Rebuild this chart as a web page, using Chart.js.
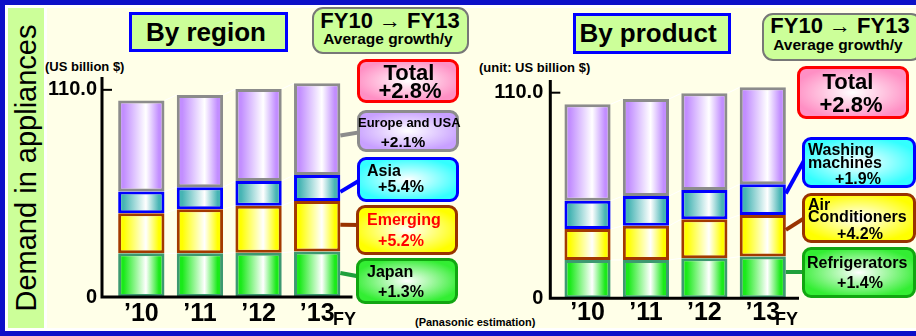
<!DOCTYPE html>
<html>
<head>
<meta charset="utf-8">
<script src="https://cdn.jsdelivr.net/npm/chart.js@4.4.1/dist/chart.umd.min.js"></script>
<style>
  body { margin: 0; width: 916px; height: 336px; overflow: hidden; font-family: "Liberation Sans", Arial, sans-serif; }
  .abs { position: absolute; }
  .frame { left: 0; top: 0; width: 916px; height: 336px; background: #0c10c8; }
  .inner { left: 5px; top: 5px; width: 911px; height: 326px; background: #fff; }
  .strip { left: 8px; top: 8px; width: 36px; height: 320px; background: #ccff99; }
  .panel { left: 47px; top: 8px; width: 869px; height: 320px; background: #ffffe8; }
  .t { position: absolute; font-weight: bold; white-space: nowrap; line-height: 1; color: #000; }
  .c { transform: translate(-50%, -50%); }
  .l { transform: translate(0, -50%); }
  .title { box-sizing: border-box; border: 3px solid #0000ff; background: #ccff99; }
  .fy { box-sizing: border-box; border: 2px solid #777; border-radius: 11px; background: #ccff99; }
  .box { box-sizing: border-box; border: 3px solid; border-radius: 9px; }
  canvas { position: absolute; }
</style>
</head>
<body>
<div class="abs frame"></div>
<div class="abs inner"></div>
<div class="abs strip"></div>
<div class="abs panel"></div>

<div class="t c" style="left:26px;top:168px;font-weight:normal;font-size:29px;transform:translate(-50%,-50%) rotate(-90deg);">Demand in appliances</div>

<!-- titles -->
<div class="abs title" style="left:129px;top:12px;width:159px;height:40px;"></div>
<div class="t c" style="left:206px;top:32px;font-size:26px;">By region</div>
<div class="abs title" style="left:573px;top:13px;width:158px;height:41px;"></div>
<div class="t c" style="left:648px;top:33px;font-size:26px;">By product</div>

<div class="abs fy" style="left:312px;top:7px;width:157px;height:47px;"></div>
<div class="t c" style="left:390px;top:21px;font-size:22px;">FY10 → FY13</div>
<div class="t c" style="left:388px;top:39px;font-size:15.5px;">Average growth/y</div>
<div class="abs fy" style="left:762px;top:13px;width:160px;height:48px;"></div>
<div class="t c" style="left:840px;top:26px;font-size:22px;">FY10 → FY13</div>
<div class="t c" style="left:838px;top:45px;font-size:15.5px;">Average growth/y</div>

<div class="t l" style="left:45px;top:66px;font-size:13px;">(US billion $)</div>
<div class="t l" style="left:479px;top:67px;font-size:13px;">(unit: US billion $)</div>
<div class="t l" style="left:415px;top:322px;font-size:11px;">(Panasonic estimation)</div>

<canvas id="regionChart" width="320" height="280" style="left:40px;top:56px;"></canvas>
<canvas id="productChart" width="316" height="280" style="left:488px;top:56px;"></canvas>

<div class="t l" style="left:333px;top:319px;font-size:18px;">FY</div>
<div class="t l" style="left:775px;top:319px;font-size:18px;">FY</div>

<!-- label boxes, by region -->
<div class="abs box" style="left:357px;top:59px;width:102px;height:44px;border-color:#ff0000;background:radial-gradient(ellipse at center,#fff 0%,#ff8fc4 80%);"></div>
<div class="t c" style="left:409px;top:73px;font-size:22px;">Total</div>
<div class="t c" style="left:410px;top:91px;font-size:22px;">+2.8%</div>

<div class="abs box" style="left:357px;top:110px;width:102px;height:42px;border-color:#8c8c8c;background:radial-gradient(ellipse at center,#fff 0%,#c8a0ff 80%);"></div>
<div class="t l" style="left:358px;top:122px;font-size:13px;">Europe and USA</div>
<div class="t c" style="left:403px;top:142px;font-size:15.5px;">+2.1%</div>

<div class="abs box" style="left:357px;top:157px;width:102px;height:45px;border-color:#0000ff;background:radial-gradient(ellipse at center,#fff 0%,#33ffff 80%);"></div>
<div class="t l" style="left:367px;top:171px;font-size:16px;">Asia</div>
<div class="t c" style="left:401px;top:187px;font-size:16px;">+5.4%</div>

<div class="abs box" style="left:356px;top:205px;width:102px;height:50px;border-color:#993300;background:radial-gradient(ellipse at center,#fff 0%,#ffff00 80%);"></div>
<div class="t l" style="left:367px;top:220px;font-size:16px;color:#ff0000;">Emerging</div>
<div class="t c" style="left:401px;top:241px;font-size:16px;color:#ff0000;">+5.2%</div>

<div class="abs box" style="left:356px;top:258px;width:102px;height:46px;border-color:#11a611;background:radial-gradient(ellipse at center,#fff 0%,#33ee33 80%);"></div>
<div class="t l" style="left:367px;top:272px;font-size:16px;">Japan</div>
<div class="t c" style="left:401px;top:292px;font-size:16px;">+1.3%</div>

<!-- label boxes, by product -->
<div class="abs box" style="left:797px;top:66px;width:112px;height:53px;border-color:#ff0000;background:radial-gradient(ellipse at center,#fff 0%,#ff8fc4 80%);"></div>
<div class="t c" style="left:848px;top:82px;font-size:22px;">Total</div>
<div class="t c" style="left:851px;top:105px;font-size:22px;">+2.8%</div>

<div class="abs box" style="left:802px;top:137px;width:114px;height:51px;border-color:#0000ff;background:radial-gradient(ellipse at center,#fff 0%,#33ffff 80%);"></div>
<div class="t l" style="left:808px;top:150px;font-size:16px;">Washing</div>
<div class="t l" style="left:808px;top:163px;font-size:16px;">machines</div>
<div class="t c" style="left:858px;top:179px;font-size:16px;">+1.9%</div>

<div class="abs box" style="left:802px;top:193px;width:114px;height:50px;border-color:#993300;background:radial-gradient(ellipse at center,#fff 0%,#ffff00 80%);"></div>
<div class="t l" style="left:808px;top:205px;font-size:16px;">Air</div>
<div class="t l" style="left:808px;top:217px;font-size:16px;">Conditioners</div>
<div class="t c" style="left:860px;top:234px;font-size:16px;">+4.2%</div>

<div class="abs box" style="left:802px;top:247px;width:114px;height:51px;border-color:#11a611;background:radial-gradient(ellipse at center,#fff 0%,#33ee33 80%);"></div>
<div class="t l" style="left:807px;top:263px;font-size:16px;">Refrigerators</div>
<div class="t c" style="left:860px;top:283px;font-size:16px;">+1.4%</div>

<script>
    // Данные (US billion $)
    const years = ['\u201910', '\u201911', '\u201912', '\u201913'];
    const yTicks = [0, 110];

    const japan = [23.2, 23.2, 23.5, 24.1];
    const emerging = [21.3, 23.4, 25.0, 26.9];
    const asia = [11.5, 11.7, 13.1, 13.8];
    const europeUsa = [48.3, 49.0, 48.8, 48.7];

    const refrigerators = [20.5, 20.5, 21.4, 22.3];
    const airConditioners = [16.6, 18.3, 20.9, 22.3];
    const washingMachines = [15.1, 15.9, 15.6, 16.4];
    const otherProducts = [51.6, 51.9, 51.8, 51.9];

    Chart.defaults.font.family = '"Liberation Sans", Arial, sans-serif';

    const FILL = { purple: '#c28eff', teal: '#46b4b4', yellow: '#ffff00', green: '#1aea1a' };
    const EDGE = { purple: '#8c8c8c', teal: '#0000ff', yellow: '#a33a00', green: '#3d9970' };

    function segment(label, data, kind) {
        return {
            label: label,
            data: data,
            fillEdge: FILL[kind],
            backgroundColor: FILL[kind],
            borderColor: EDGE[kind],
            borderWidth: 3,
            borderSkipped: false,
            categoryPercentage: 1,
            barPercentage: 0.79
        };
    }

    // Градиент, оси, линии к подписям
    const decorPlugin = {
        id: 'decor',
        beforeDatasetsDraw(chart) {
            const ctx = chart.ctx;
            chart.data.datasets.forEach((ds, i) => {
                const bars = chart.getDatasetMeta(i).data;
                bars.forEach(bar => {
                    const g = ctx.createLinearGradient(bar.x - bar.width / 2, 0, bar.x + bar.width / 2, 0);
                    g.addColorStop(0, ds.fillEdge);
                    g.addColorStop(0.12, ds.fillEdge);
                    g.addColorStop(0.6, '#ffffff');
                    g.addColorStop(0.88, ds.fillEdge);
                    g.addColorStop(1, ds.fillEdge);
                    bar.options = Object.assign({}, bar.options, { backgroundColor: g });
                });
                // тонкие белые линии между столбцами
                ctx.save();
                ctx.strokeStyle = '#ffffff';
                ctx.lineWidth = 1;
                for (let k = 0; k < bars.length - 1; k++) {
                    ctx.beginPath();
                    ctx.moveTo(bars[k].x + bars[k].width / 2, bars[k].y);
                    ctx.lineTo(bars[k + 1].x - bars[k + 1].width / 2, bars[k + 1].y);
                    ctx.stroke();
                }
                ctx.restore();
            });
        },
        afterDatasetsDraw(chart) {
            const ctx = chart.ctx;
            const area = chart.chartArea;
            const y = chart.scales.y;
            const cfg = chart.options.plugins.decor;
            const axisX = area.left - cfg.axisGap;
            const zeroY = y.getPixelForValue(0);

            ctx.save();
            ctx.strokeStyle = '#000';
            ctx.lineWidth = 3;
            ctx.beginPath();
            ctx.moveTo(axisX, area.top + 6);
            ctx.lineTo(axisX, zeroY);
            ctx.lineTo(area.right + cfg.axisExtra, zeroY);
            ctx.stroke();
            ctx.lineWidth = 2;
            ctx.beginPath();
            const t = y.getPixelForValue(yTicks[1]);
            ctx.moveTo(axisX, t);
            ctx.lineTo(axisX + 10, t);
            ctx.stroke();

            // линии от последнего столбца к подписям
            ctx.lineWidth = 4;
            cfg.connectors.forEach(c => {
                const bars = chart.getDatasetMeta(c.ds).data;
                const bar = bars[bars.length - 1];
                const top = Math.min(bar.y, bar.base);
                const h = Math.abs(bar.base - bar.y);
                ctx.strokeStyle = c.color;
                ctx.beginPath();
                ctx.moveTo(bar.x + bar.width / 2, top + h * c.frac);
                ctx.lineTo(chart.width + 2, c.toY - cfg.top);
                ctx.stroke();
            });
            ctx.restore();
        }
    };

    function makeChart(id, datasets, geo) {
        return new Chart(document.getElementById(id), {
            type: 'bar',
            data: { labels: years, datasets: datasets },
            options: {
                responsive: false,
                animation: false,
                events: [],
                layout: { autoPadding: false, padding: { top: geo.padTop, right: geo.padRight, left: 0, bottom: 0 } },
                plugins: {
                    legend: { display: false },
                    tooltip: { enabled: false },
                    decor: geo
                },
                scales: {
                    x: {
                        stacked: true,
                        grid: { display: false, drawTicks: false },
                        border: { display: false },
                        ticks: { color: '#000', padding: geo.xPad, font: { size: 25, weight: 'bold' } },
                        afterFit: s => { s.height = geo.xHeight; }
                    },
                    y: {
                        stacked: true,
                        min: 0,
                        max: 120,
                        grid: { display: false, drawTicks: true, tickLength: 13 },
                        border: { display: false },
                        afterBuildTicks: s => { s.ticks = yTicks.map(v => ({ value: v })); },
                        ticks: {
                            color: '#000',
                            padding: 2,
                            font: { size: 20, weight: 'bold' },
                            callback: v => (v === 0 ? '0' : v.toFixed(1))
                        },
                        afterFit: s => { s.width = geo.yWidth; }
                    }
                }
            },
            plugins: [decorPlugin]
        });
    }

    makeChart('regionChart', [
        segment('Japan', japan, 'green'),
        segment('Emerging', emerging, 'yellow'),
        segment('Asia', asia, 'teal'),
        segment('Europe and USA', europeUsa, 'purple')
    ], {
        top: 56, padTop: 15, padRight: 13.5, xHeight: 39, xPad: 2, yWidth: 72, axisGap: 10, axisExtra: 6,
        connectors: [
            { ds: 3, color: '#8c8c8c', frac: 0.57, toY: 132 },
            { ds: 2, color: '#0000ff', frac: 0.65, toY: 179 },
            { ds: 1, color: '#993300', frac: 0.47, toY: 225 },
            { ds: 0, color: '#1fa03c', frac: 0.47, toY: 277 }
        ]
    });

    makeChart('productChart', [
        segment('Refrigerators', refrigerators, 'green'),
        segment('Air Conditioners', airConditioners, 'yellow'),
        segment('Washing machines', washingMachines, 'teal'),
        segment('Others', otherProducts, 'purple')
    ], {
        top: 56, padTop: 18, padRight: 12, xHeight: 37.7, xPad: 0, yWidth: 70.3, axisGap: 8, axisExtra: 7,
        connectors: [
            { ds: 2, color: '#0000ff', frac: 0.3, toY: 157 },
            { ds: 1, color: '#993300', frac: 0.36, toY: 217 },
            { ds: 0, color: '#1fa03c', frac: 0.37, toY: 272 }
        ]
    });
</script>
</body>
</html>
